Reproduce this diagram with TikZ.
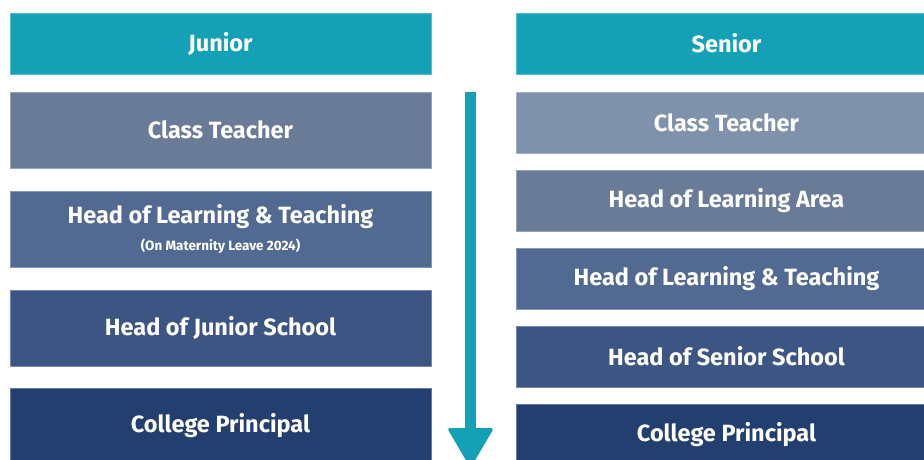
\documentclass[tikz,border=0pt]{standalone}
\usepackage{fontspec}
\setmainfont{Fira Sans}
\usetikzlibrary{positioning}

\definecolor{headteal}{HTML}{14A1B5}
\definecolor{tierA}{HTML}{7F91AB}
\definecolor{tierB}{HTML}{6A7B98}
\definecolor{tierC}{HTML}{526A91}
\definecolor{tierD}{HTML}{3D5582}
\definecolor{tierE}{HTML}{233F70}

\begin{document}
\begin{tikzpicture}[x=1pt, y=-1pt,
    box/.style={anchor=north west, minimum width=421pt, inner sep=0pt, outer sep=0pt,
        text=white, font=\fontsize{23.5}{26}\selectfont\bfseries, align=center},
    hdr/.style={box, fill=headteal, draw=headteal!70!white, line width=0.6pt, minimum height=61pt},
    jrole/.style={box, minimum height=76pt},
    srole/.style={box, minimum height=61pt}]
        \useasboundingbox (0,0) rectangle (924,459);
        \clip (0,0) rectangle (924,459);

        % Junior column
        \node[hdr] (jhead) at (10,13) {Junior};
        \node[jrole, fill=tierB, draw=tierB!70!white] (jteach) at (10,92) {Class Teacher};
        \node[jrole, fill=tierC, draw=tierC!70!white] (jlt) at (10,191)
            {Head of Learning \& Teaching\\[1pt]{\fontsize{13.5}{15}\selectfont (On Maternity Leave 2024)}};
        \node[jrole, fill=tierD, draw=tierD!70!white] (jhos) at (10,290) {Head of Junior School};
        \node[jrole, fill=tierE, draw=tierE!70!white] (jprin) at (10,388) {College Principal};

        % Senior column
        \node[hdr] (shead) at (516,13) {Senior};
        \node[srole, fill=tierA, draw=tierA!70!white] (steach) at (516,92) {Class Teacher};
        \node[srole, fill=tierB, draw=tierB!70!white] (sla) at (516,170) {Head of Learning Area};
        \node[srole, fill=tierC, draw=tierC!70!white] (slt) at (516,248) {Head of Learning \& Teaching};
        \node[srole, fill=tierD, draw=tierD!70!white] (shos) at (516,326) {Head of Senior School};
        \node[srole, fill=tierE, draw=tierE!70!white] (sprin) at (516,404) {College Principal};

        % Arrow down the middle
        \fill[headteal] (465,92) rectangle (476,432);
        \fill[headteal, rounded corners=3pt] (447,428) -- (494,428) -- (470.5,468) -- cycle;
    \end{tikzpicture}
\end{document}
